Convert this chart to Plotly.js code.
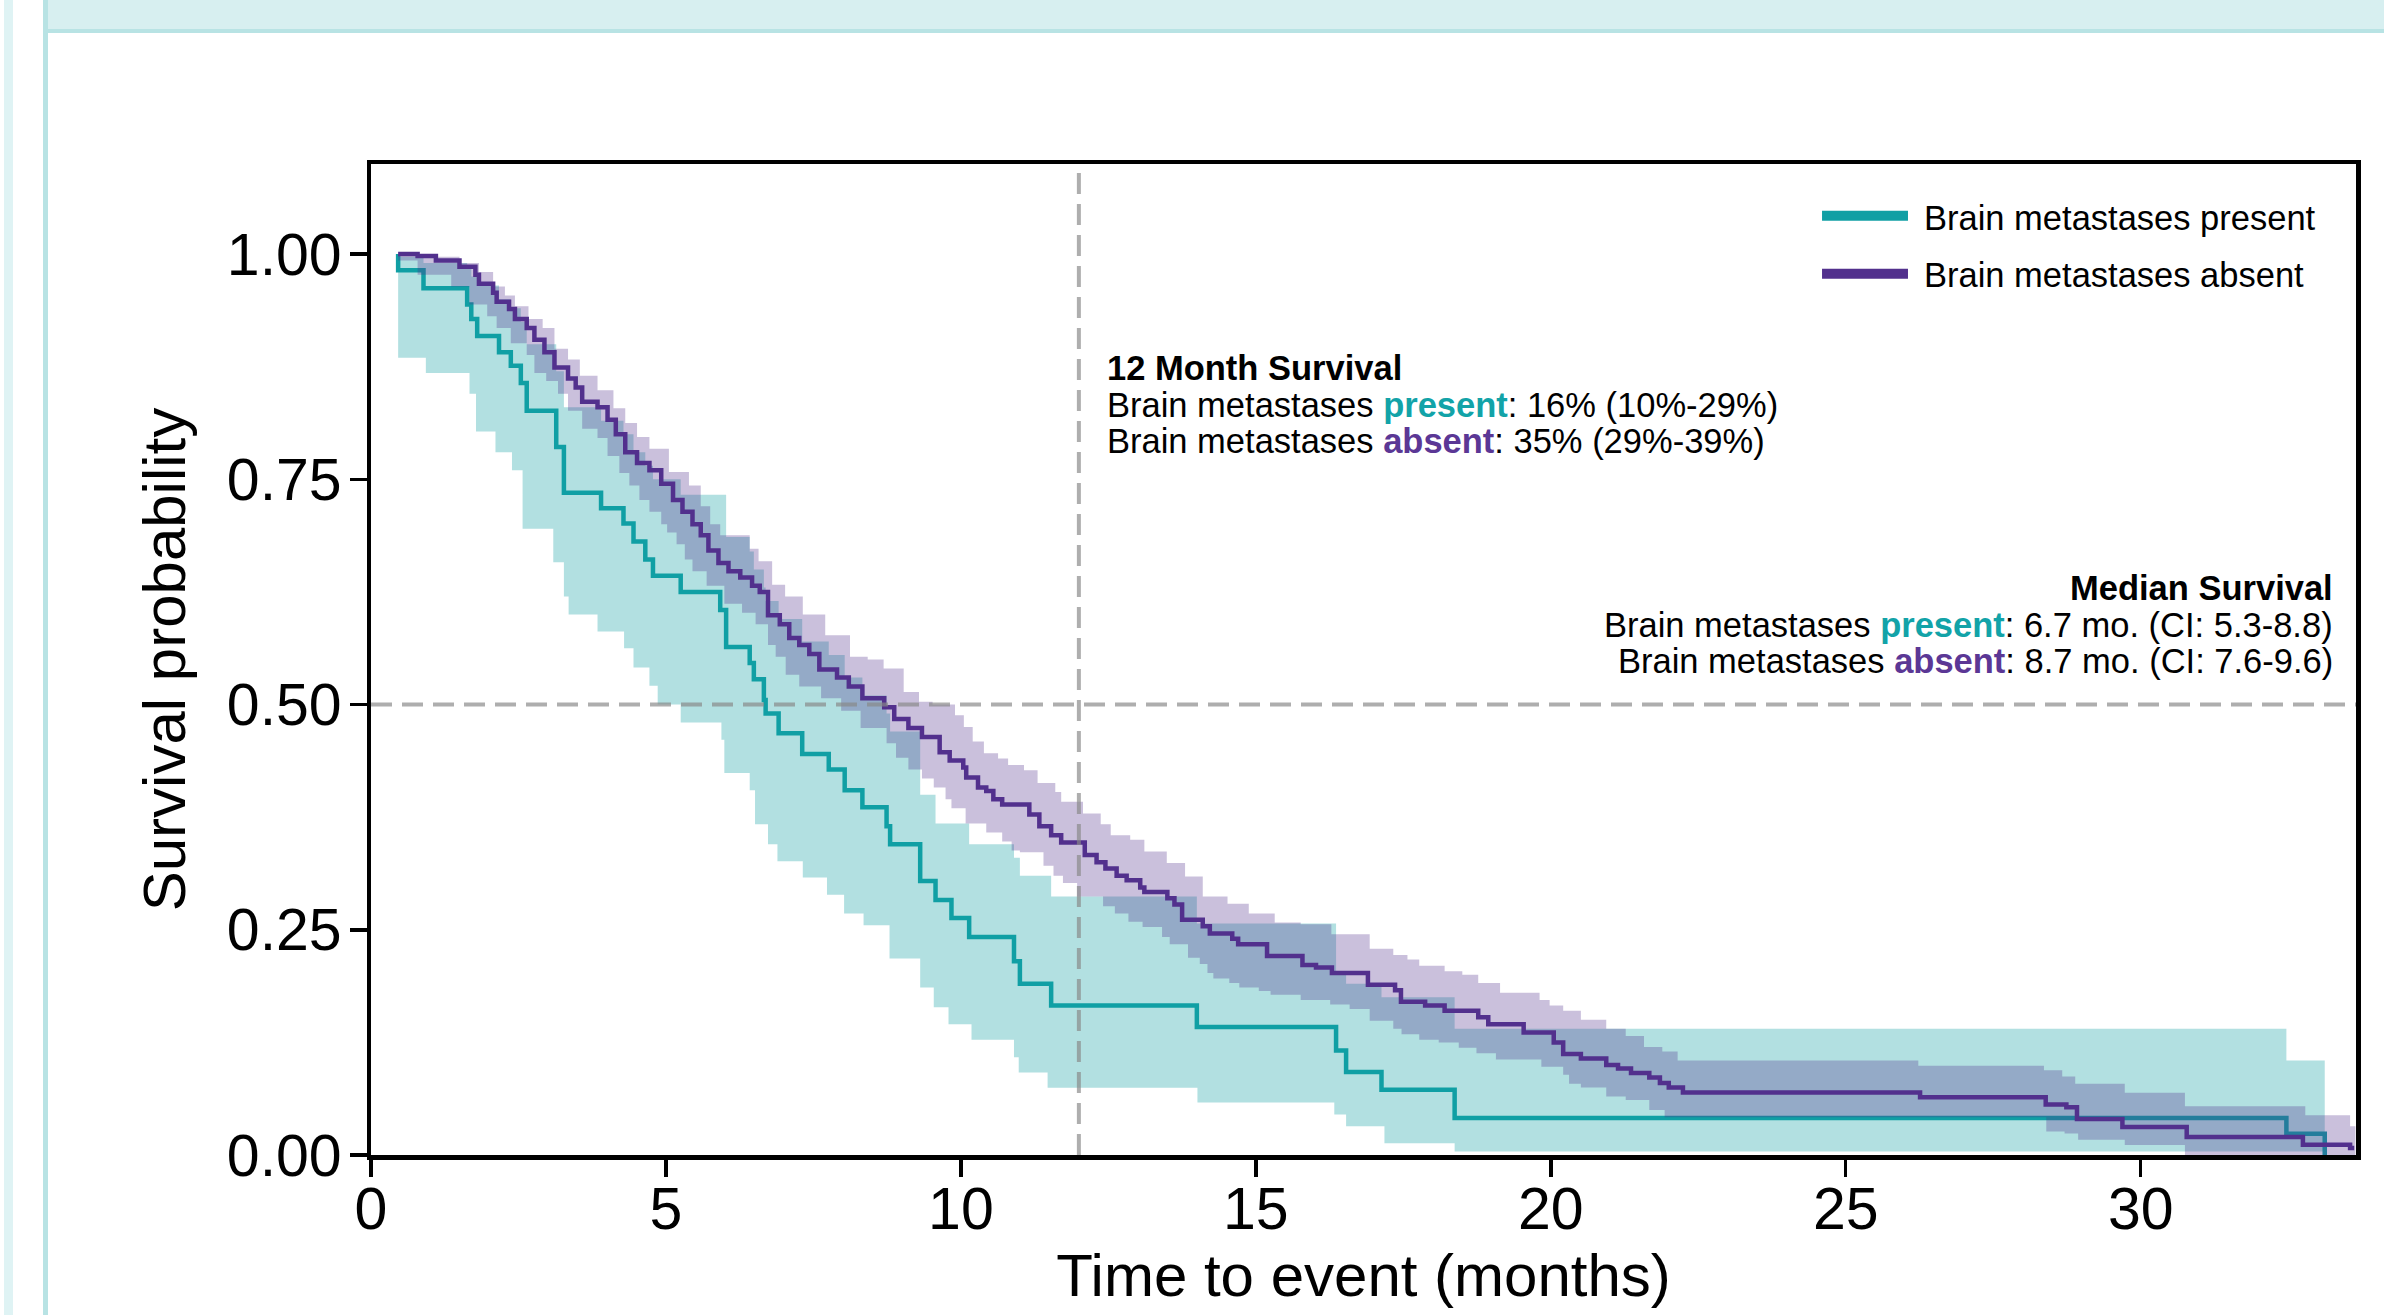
<!DOCTYPE html>
<html>
<head>
<meta charset="utf-8">
<script src="https://cdn.plot.ly/plotly-3.0.1.min.js"></script>
<style>
  html, body { margin:0; padding:0; background:#ffffff; width:2384px; height:1315px; overflow:hidden; }
  .deco { position:absolute; }
  #chart { position:absolute; left:0; top:0; width:2384px; height:1315px; }
</style>
</head>
<body>
<div class="deco" style="left:4px;top:0;width:9px;height:1315px;background:#dff3f4;"></div>
<div class="deco" style="left:43px;top:0;width:5px;height:1315px;background:#b8e3e4;"></div>
<div class="deco" style="left:48px;top:0;width:2336px;height:29px;background:#d7eff0;"></div>
<div class="deco" style="left:48px;top:29px;width:2336px;height:4px;background:#b8e3e4;"></div>
<div id="chart"></div>
<script>
// ---- Kaplan-Meier estimate: brain metastases present ----
const presentTime = [0.46, 0.46, 0.89, 1.63, 1.70, 1.80, 2.17, 2.37, 2.54, 2.64, 3.14, 3.27, 3.90, 4.28, 4.45, 4.65, 4.78, 5.25, 5.92, 6.02, 6.42, 6.49, 6.66, 6.69, 6.91, 7.31, 7.76, 8.03, 8.33, 8.74, 8.80, 9.31, 9.57, 9.84, 10.14, 10.90, 11.00, 11.53, 14.00, 16.36, 16.53, 17.13, 18.37, 32.47, 33.12];
const presentSurv = [1.000, 0.982, 0.962, 0.944, 0.928, 0.909, 0.891, 0.876, 0.857, 0.826, 0.786, 0.735, 0.718, 0.701, 0.681, 0.661, 0.643, 0.625, 0.605, 0.564, 0.546, 0.528, 0.505, 0.490, 0.468, 0.445, 0.428, 0.405, 0.386, 0.365, 0.345, 0.304, 0.283, 0.263, 0.242, 0.215, 0.190, 0.166, 0.142, 0.116, 0.092, 0.0725, 0.041, 0.0236, 0.000];

// CI (present)
const presentLoTime = [0.46, 0.93, 1.67, 1.78, 2.11, 2.39, 2.57, 3.09, 3.27, 3.35, 3.84, 4.29, 4.45, 4.72, 4.86, 5.25, 5.94, 5.99, 6.42, 6.51, 6.73, 6.89, 7.32, 7.73, 8.02, 8.35, 8.79, 9.31, 9.54, 9.79, 10.18, 10.90, 10.98, 11.47, 14.01, 16.33, 16.53, 17.18, 18.37, 33.12];
const presentLo = [0.885, 0.868, 0.845, 0.803, 0.780, 0.760, 0.695, 0.658, 0.620, 0.600, 0.581, 0.5625, 0.541, 0.521, 0.500, 0.480, 0.461, 0.424, 0.405, 0.367, 0.345, 0.326, 0.308, 0.289, 0.268, 0.255, 0.218, 0.186, 0.164, 0.145, 0.128, 0.1085, 0.0915, 0.0746, 0.0584, 0.045, 0.032, 0.013, 0.004, 0.004];
const presentHiTime = [0.46, 0.89, 1.63, 1.70, 1.80, 2.17, 2.37, 2.54, 2.64, 3.14, 3.27, 3.90, 4.28, 4.45, 4.65, 4.78, 5.25, 6.02, 6.42, 6.49, 6.66, 6.69, 6.91, 7.31, 7.76, 8.03, 8.33, 8.74, 8.80, 9.31, 9.57, 9.84, 10.14, 10.90, 11.00, 11.53, 14.00, 16.36, 16.53, 17.13, 18.37, 32.47, 33.12];
const presentHi = [0.997, 0.990, 0.985, 0.975, 0.965, 0.950, 0.940, 0.925, 0.900, 0.870, 0.830, 0.815, 0.800, 0.780, 0.765, 0.750, 0.733, 0.686, 0.670, 0.650, 0.630, 0.615, 0.595, 0.570, 0.555, 0.530, 0.510, 0.490, 0.470, 0.400, 0.368, 0.368, 0.345, 0.330, 0.310, 0.287, 0.257, 0.200, 0.190, 0.175, 0.140, 0.105, 0.105];

// ---- Kaplan-Meier estimate: brain metastases absent ----
const absentTime = [0.46, 0.79, 1.10, 1.50, 1.77, 1.83, 2.07, 2.13, 2.34, 2.44, 2.64, 2.77, 2.94, 3.11, 3.34, 3.47, 3.58, 3.84, 4.01, 4.15, 4.31, 4.51, 4.72, 4.92, 5.12, 5.28, 5.45, 5.59, 5.72, 5.89, 6.06, 6.26, 6.46, 6.59, 6.73, 6.93, 7.09, 7.26, 7.43, 7.60, 7.90, 8.10, 8.33, 8.70, 8.87, 9.11, 9.34, 9.64, 9.81, 10.04, 10.09, 10.29, 10.43, 10.55, 10.70, 11.16, 11.33, 11.53, 11.70, 12.10, 12.30, 12.45, 12.64, 12.81, 13.04, 13.11, 13.50, 13.62, 13.75, 14.10, 14.22, 14.60, 14.70, 15.19, 15.79, 16.02, 16.29, 16.90, 17.36, 17.46, 17.87, 18.20, 18.77, 18.94, 19.54, 20.05, 20.21, 20.51, 20.94, 21.14, 21.36, 21.67, 21.85, 22.00, 22.24, 26.26, 28.39, 28.74, 28.92, 29.69, 30.78, 32.75, 33.55, 33.62];
const absentSurv = [1.000, 0.998, 0.993, 0.986, 0.977, 0.967, 0.957, 0.947, 0.939, 0.928, 0.918, 0.905, 0.891, 0.874, 0.862, 0.852, 0.836, 0.830, 0.816, 0.800, 0.780, 0.768, 0.760, 0.745, 0.727, 0.714, 0.700, 0.688, 0.671, 0.657, 0.648, 0.641, 0.632, 0.625, 0.599, 0.589, 0.574, 0.566, 0.556, 0.539, 0.530, 0.520, 0.507, 0.497, 0.484, 0.474, 0.464, 0.447, 0.438, 0.430, 0.419, 0.408, 0.404, 0.395, 0.389, 0.378, 0.365, 0.355, 0.347, 0.333, 0.325, 0.318, 0.310, 0.305, 0.297, 0.292, 0.285, 0.278, 0.261, 0.254, 0.246, 0.240, 0.234, 0.221, 0.211, 0.208, 0.202, 0.189, 0.183, 0.170, 0.166, 0.160, 0.153, 0.145, 0.136, 0.125, 0.112, 0.107, 0.100, 0.096, 0.091, 0.086, 0.080, 0.075, 0.0695, 0.064, 0.056, 0.053, 0.040, 0.031, 0.020, 0.0114, 0.0078, 0.0078];

// CI (absent)
const absentLoTime = [0.46, 0.79, 1.36, 1.67, 1.97, 2.13, 2.37, 2.64, 2.77, 2.97, 3.17, 3.34, 3.58, 3.84, 4.01, 4.21, 4.38, 4.55, 4.72, 4.92, 5.02, 5.18, 5.32, 5.45, 5.69, 5.99, 6.29, 6.52, 6.73, 6.86, 7.03, 7.26, 7.63, 7.97, 8.30, 8.74, 8.90, 9.11, 9.34, 9.54, 9.74, 9.84, 10.08, 10.43, 10.70, 10.86, 11.00, 11.40, 11.57, 11.73, 11.97, 12.41, 12.61, 12.84, 13.08, 13.41, 13.54, 13.85, 14.05, 14.18, 14.28, 14.55, 14.72, 15.05, 15.25, 15.76, 16.26, 16.59, 16.93, 17.33, 17.47, 17.77, 18.10, 18.44, 18.74, 19.07, 19.84, 20.21, 20.31, 20.51, 20.94, 21.27, 21.67, 21.93, 28.40, 28.71, 28.94, 29.73, 30.75, 33.64];
const absentLo = [0.993, 0.977, 0.964, 0.944, 0.931, 0.918, 0.901, 0.888, 0.868, 0.859, 0.845, 0.826, 0.806, 0.796, 0.776, 0.757, 0.743, 0.727, 0.714, 0.700, 0.691, 0.678, 0.661, 0.648, 0.632, 0.612, 0.602, 0.589, 0.566, 0.553, 0.533, 0.520, 0.507, 0.493, 0.474, 0.457, 0.441, 0.428, 0.418, 0.408, 0.395, 0.385, 0.368, 0.358, 0.348, 0.338, 0.336, 0.321, 0.310, 0.302, 0.287, 0.276, 0.268, 0.259, 0.253, 0.242, 0.234, 0.219, 0.212, 0.202, 0.196, 0.191, 0.186, 0.182, 0.178, 0.172, 0.167, 0.162, 0.149, 0.140, 0.134, 0.128, 0.125, 0.119, 0.113, 0.106, 0.098, 0.089, 0.079, 0.075, 0.065, 0.061, 0.050, 0.042, 0.026, 0.024, 0.017, 0.011, 0.000, 0.000];
const absentHiTime = [0.46, 1.10, 1.50, 1.83, 2.07, 2.27, 2.44, 2.67, 2.91, 3.11, 3.34, 3.54, 3.84, 4.11, 4.31, 4.51, 4.72, 5.05, 5.39, 5.59, 5.75, 5.92, 6.42, 6.57, 6.80, 7.02, 7.32, 7.70, 8.12, 8.42, 8.69, 9.03, 9.29, 9.52, 9.90, 10.05, 10.20, 10.39, 10.63, 10.80, 11.07, 11.30, 11.60, 11.70, 12.07, 12.37, 12.54, 12.87, 13.11, 13.49, 13.80, 14.10, 14.52, 14.88, 15.32, 15.76, 16.28, 16.93, 17.33, 17.57, 17.77, 18.20, 18.50, 18.77, 19.14, 19.81, 19.98, 20.21, 20.51, 20.94, 21.27, 21.58, 21.89, 22.15, 26.23, 28.36, 28.67, 28.89, 29.73, 30.75, 32.79, 33.55, 33.64];
const absentHi = [1.000, 0.997, 0.990, 0.980, 0.964, 0.954, 0.942, 0.928, 0.918, 0.895, 0.883, 0.865, 0.849, 0.829, 0.8125, 0.797, 0.784, 0.758, 0.743, 0.720, 0.700, 0.688, 0.673, 0.659, 0.633, 0.620, 0.600, 0.577, 0.553, 0.550, 0.540, 0.514, 0.503, 0.500, 0.488, 0.475, 0.459, 0.446, 0.440, 0.433, 0.427, 0.413, 0.403, 0.392, 0.379, 0.367, 0.355, 0.350, 0.337, 0.324, 0.309, 0.287, 0.279, 0.268, 0.258, 0.256, 0.245, 0.229, 0.222, 0.217, 0.210, 0.204, 0.200, 0.191, 0.180, 0.172, 0.166, 0.160, 0.150, 0.140, 0.132, 0.120, 0.115, 0.105, 0.099, 0.094, 0.087, 0.079, 0.069, 0.054, 0.044, 0.032, 0.032];

// ---- Axis ticks and labels ----
const xTicks = [0, 5, 10, 15, 20, 25, 30];
const yTicks = [0, 0.25, 0.5, 0.75, 1.0];
const yTickText = ['0.00', '0.25', '0.50', '0.75', '1.00'];
const seriesNames = ['Brain metastases present', 'Brain metastases absent'];
const landmarkMonth = 12;
const medianLevel = 0.5;

const TEAL = '#109fa4';
const PURPLE = '#52308d';
const TEAL_FILL = 'rgba(20,160,165,0.33)';
const PURPLE_FILL = 'rgba(80,45,140,0.30)';
const FONT = 'Liberation Sans, Arial, Helvetica, sans-serif';

const traces = [
  {x: presentLoTime, y: presentLo, type: 'scatter', mode: 'lines', line: {width: 0, shape: 'hv'}, showlegend: false, hoverinfo: 'skip', name: 'present lower CI'},
  {x: presentHiTime, y: presentHi, type: 'scatter', mode: 'lines', line: {width: 0, shape: 'hv'}, fill: 'tonexty', fillcolor: TEAL_FILL, showlegend: false, hoverinfo: 'skip', name: 'present upper CI'},
  {x: presentTime, y: presentSurv, type: 'scatter', mode: 'lines', line: {color: TEAL, width: 4.5, shape: 'hv'}, name: seriesNames[0], showlegend: false},
  {x: absentLoTime, y: absentLo, type: 'scatter', mode: 'lines', line: {width: 0, shape: 'hv'}, showlegend: false, hoverinfo: 'skip', name: 'absent lower CI'},
  {x: absentHiTime, y: absentHi, type: 'scatter', mode: 'lines', line: {width: 0, shape: 'hv'}, fill: 'tonexty', fillcolor: PURPLE_FILL, showlegend: false, hoverinfo: 'skip', name: 'absent upper CI'},
  {x: absentTime, y: absentSurv, type: 'scatter', mode: 'lines', line: {color: PURPLE, width: 4.5, shape: 'hv'}, name: seriesNames[1], showlegend: false}
];

const dashLine = {color: 'rgba(135,135,135,0.68)', width: 4, dash: '21px,10px'};
const shapes = [
  {type: 'line', xref: 'x', yref: 'paper', x0: landmarkMonth, x1: landmarkMonth, y0: 0, y1: 1, line: dashLine, layer: 'above'},
  {type: 'line', xref: 'paper', yref: 'y', x0: 0, x1: 1, y0: medianLevel, y1: medianLevel, line: dashLine, layer: 'above'},
  // custom legend samples
  {type: 'line', xref: 'paper', yref: 'paper', x0: 0.7310, x1: 0.7743, y0: 0.9478, y1: 0.9478, line: {color: TEAL, width: 10}},
  {type: 'line', xref: 'paper', yref: 'paper', x0: 0.7310, x1: 0.7743, y0: 0.8893, y1: 0.8893, line: {color: PURPLE, width: 10}}
];

const annFont = {family: FONT, size: 34.5, color: '#000000'};
const tealWord = "<b><span style='color:#12a3a8'>present</span></b>";
const purpWord = "<b><span style='color:#5b3795'>absent</span></b>";
const annotations = [
  {xref: 'paper', yref: 'paper', x: 0.7815, y: 0.9455, xanchor: 'left', yanchor: 'middle', text: seriesNames[0], showarrow: false, font: annFont},
  {xref: 'paper', yref: 'paper', x: 0.7815, y: 0.8880, xanchor: 'left', yanchor: 'middle', text: seriesNames[1], showarrow: false, font: annFont},

  {xref: 'paper', yref: 'paper', x: 0.3698, y: 0.7941, xanchor: 'left', yanchor: 'middle', text: '<b>12 Month Survival</b>', showarrow: false, font: annFont},
  {xref: 'paper', yref: 'paper', x: 0.3698, y: 0.7573, xanchor: 'left', yanchor: 'middle', text: 'Brain metastases ' + tealWord + ': 16% (10%-29%)', showarrow: false, font: annFont},
  {xref: 'paper', yref: 'paper', x: 0.3698, y: 0.7205, xanchor: 'left', yanchor: 'middle', text: 'Brain metastases ' + purpWord + ': 35% (29%-39%)', showarrow: false, font: annFont},

  {xref: 'paper', yref: 'paper', x: 0.9892, y: 0.5718, xanchor: 'right', yanchor: 'middle', text: '<b>Median Survival</b>', showarrow: false, font: annFont},
  {xref: 'paper', yref: 'paper', x: 0.9892, y: 0.5349, xanchor: 'right', yanchor: 'middle', text: 'Brain metastases ' + tealWord + ': 6.7 mo. (CI: 5.3-8.8)', showarrow: false, font: annFont},
  {xref: 'paper', yref: 'paper', x: 0.9892, y: 0.4981, xanchor: 'right', yanchor: 'middle', text: 'Brain metastases ' + purpWord + ': 8.7 mo. (CI: 7.6-9.6)', showarrow: false, font: annFont}
];

const axisCommon = {
  showgrid: false, zeroline: false, showline: true, linecolor: '#000000', linewidth: 4.5, mirror: true,
  ticks: 'outside', ticklen: 17, tickwidth: 3.5, tickcolor: '#000000',
  tickfont: {family: FONT, size: 59, color: '#000000'}, automargin: false
};

const layout = {
  width: 2384, height: 1315,
  margin: {l: 371, r: 28, t: 164, b: 160, pad: 0},
  paper_bgcolor: 'rgba(0,0,0,0)', plot_bgcolor: '#ffffff',
  font: {family: FONT, color: '#000000'},
  showlegend: false,
  xaxis: Object.assign({}, axisCommon, {
    range: [0, 33.65], tickvals: xTicks, ticktext: xTicks.map(String), ticklabelstandoff: -18,
    title: {text: 'Time to event (months)', font: {family: FONT, size: 60, color: '#000000'}, standoff: 4}
  }),
  yaxis: Object.assign({}, axisCommon, {
    range: [0, 1.1], tickvals: yTicks, ticktext: yTickText, ticklabelstandoff: -4,
    title: {text: 'Survival probability', font: {family: FONT, size: 60, color: '#000000'}, standoff: 23}
  }),
  shapes: shapes,
  annotations: annotations
};

Plotly.newPlot('chart', traces, layout, {displayModeBar: false, staticPlot: true});
</script>
</body>
</html>
